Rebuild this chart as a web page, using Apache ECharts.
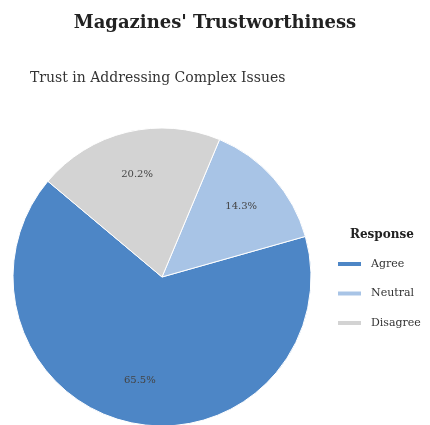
<!DOCTYPE html>
<html>
<head>
<meta charset="utf-8">
<script src="https://cdn.jsdelivr.net/npm/echarts@6/dist/echarts.min.js"></script>
<style>
  html, body { margin: 0; padding: 0; background: #ffffff; }
  #chart { width: 430px; height: 425px; }
</style>
</head>
<body>
<div id="chart"></div>
<script>
// Survey responses: trust in magazines addressing complex issues
const responses = ['Agree', 'Neutral', 'Disagree'];
const shares = [65.5, 14.3, 20.2];
const sliceColors = ['#4d86c6', '#a8c4e6', '#d3d3d3'];

const serif = '"DejaVu Serif", "Liberation Serif", serif';
const pieCenter = [162, 277];
const pieRadius = 149;

const pieData = responses.map((name, i) => ({
  name: name,
  value: shares[i],
  itemStyle: { color: sliceColors[i] }
}));

const chart = echarts.init(document.getElementById('chart'), null, { renderer: 'canvas' });

chart.setOption({
  backgroundColor: '#ffffff',
  animation: false,
  title: [
    {
      text: "Magazines' Trustworthiness",
      left: 'center',
      top: 9,
      textStyle: { fontFamily: serif, fontSize: 18, fontWeight: 'bold', color: '#222222' }
    },
    {
      text: 'Trust in Addressing Complex Issues',
      left: 25,
      top: 66,
      textStyle: { fontFamily: serif, fontSize: 14, fontWeight: 'normal', color: '#333333' }
    },
    {
      text: 'Response',
      left: 345,
      top: 224,
      textStyle: { fontFamily: serif, fontSize: 12, fontWeight: 'bold', color: '#222222' }
    }
  ],
  legend: {
    orient: 'vertical',
    left: 331,
    top: 252,
    data: responses,
    icon: 'rect',
    itemWidth: 25,
    itemHeight: 6,
    itemGap: 15.5,
    textStyle: { fontFamily: serif, fontSize: 11, color: '#333333', lineHeight: 14, padding: [0, 0, 0, 4] }
  },
  series: [
    {
      // visible slices
      name: 'Response',
      type: 'pie',
      center: pieCenter,
      radius: [0, pieRadius],
      startAngle: 140,
      clockwise: false,
      avoidLabelOverlap: false,
      label: { show: false },
      labelLine: { show: false },
      emphasis: { disabled: true },
      itemStyle: { borderColor: '#ffffff', borderWidth: 1 },
      data: pieData
    },
    {
      // percentage labels placed at ~69% of the radius
      name: 'ResponseLabels',
      type: 'pie',
      center: pieCenter,
      radius: [pieRadius * 0.38, pieRadius],
      startAngle: 140,
      clockwise: false,
      silent: true,
      legendHoverLink: false,
      avoidLabelOverlap: false,
      itemStyle: { color: 'rgba(0,0,0,0)', borderWidth: 0 },
      label: {
        show: true,
        position: 'inside',
        formatter: (p) => p.value.toFixed(1) + '%',
        fontFamily: serif,
        fontSize: 10,
        color: '#444444'
      },
      labelLine: { show: false },
      emphasis: { disabled: true },
      data: responses.map((name, i) => ({ name: name + ' ', value: shares[i] }))
    }
  ]
});
</script>
</body>
</html>
